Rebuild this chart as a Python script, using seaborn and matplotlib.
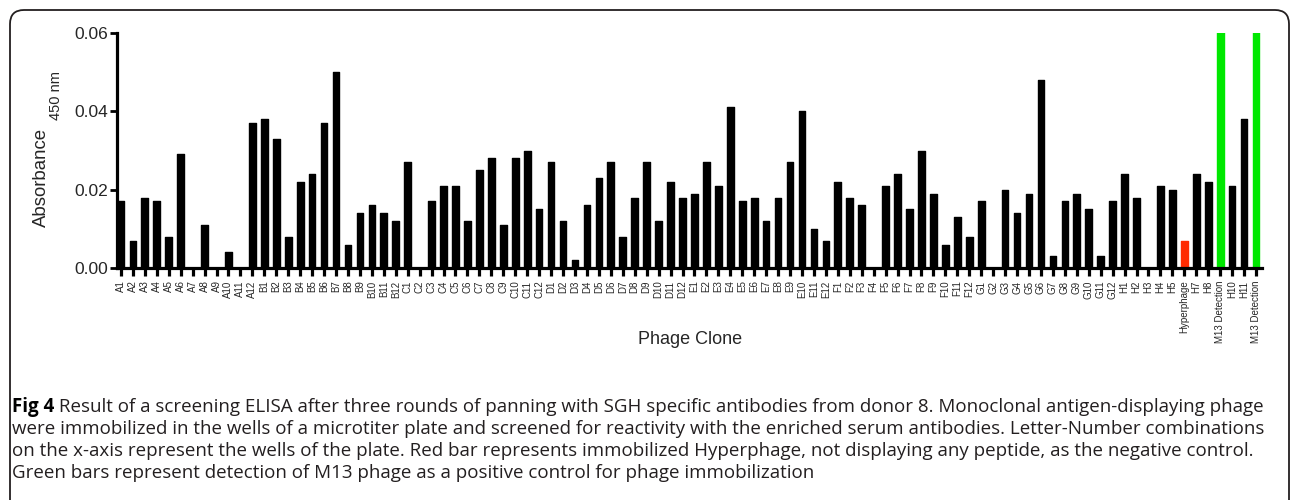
import matplotlib
matplotlib.use("Agg")
import matplotlib.pyplot as plt
import seaborn as sns
import pandas as pd
from matplotlib.patches import FancyBboxPatch
from matplotlib.transforms import IdentityTransform

# ---------------- data ----------------
row_A = [0.017, 0.007, 0.018, 0.017, 0.008, 0.029, 0.0, 0.011, 0.0, 0.004, 0.0, 0.037]
row_B = [0.038, 0.033, 0.008, 0.022, 0.024, 0.037, 0.050, 0.006, 0.014, 0.016, 0.014, 0.012]
row_C = [0.027, 0.0, 0.017, 0.021, 0.021, 0.012, 0.025, 0.028, 0.011, 0.028, 0.030, 0.015]
row_D = [0.027, 0.012, 0.002, 0.016, 0.023, 0.027, 0.008, 0.018, 0.027, 0.012, 0.022, 0.018]
row_E = [0.019, 0.027, 0.021, 0.041, 0.017, 0.018, 0.012, 0.018, 0.027, 0.040, 0.010, 0.007]
row_F = [0.022, 0.018, 0.016, 0.0, 0.021, 0.024, 0.015, 0.030, 0.019, 0.006, 0.013, 0.008]
row_G = [0.017, 0.0, 0.020, 0.014, 0.019, 0.048, 0.003, 0.017, 0.019, 0.015, 0.003, 0.017]
row_H = [0.024, 0.018, 0.0, 0.021, 0.020, 0.007, 0.024, 0.022, 0.065, 0.021, 0.038, 0.065]

row_letters = ["A", "B", "C", "D", "E", "F", "G", "H"]
special_labels = {"H6": "Hyperphage", "H9": "M13 Detection", "H12": "M13 Detection"}
special_kinds = {"H6": "negative", "H9": "positive", "H12": "positive"}

y_ticks = [0.00, 0.02, 0.04, 0.06]
y_title = "Absorbance"
y_title_sub = "450 nm"
x_title = "Phage Clone"
caption_bold = "Fig 4"
caption_lines = [
    " Result of a screening ELISA after three rounds of panning with SGH specific antibodies from donor 8. Monoclonal antigen-displaying phage",
    "were immobilized in the wells of a microtiter plate and screened for reactivity with the enriched serum antibodies. Letter-Number combinations",
    "on the x-axis represent the wells of the plate. Red bar represents immobilized Hyperphage, not displaying any peptide, as the negative control.",
    "Green bars represent detection of M13 phage as a positive control for phage immobilization",
]

# ---------------- build table ----------------
values = row_A + row_B + row_C + row_D + row_E + row_F + row_G + row_H
wells = [f"{r}{c}" for r in row_letters for c in range(1, 13)]
labels = [special_labels.get(w, w) for w in wells]
kinds = [special_kinds.get(w, "sample") for w in wells]
df = pd.DataFrame({"pos": list(range(len(values))), "label": labels,
                   "value": values, "kind": kinds})
palette = {"sample": "#000000", "negative": "#ff2a00", "positive": "#00e800"}

# ---------------- plot ----------------
sns.set_theme(style="ticks")
plt.rcParams["font.family"] = ["Liberation Sans", "DejaVu Sans"]

W, H = 1292, 500
fig = plt.figure(figsize=(W / 100, H / 100), dpi=100)
ax = fig.add_axes([117 / W, 232 / H, (1262 - 117) / W, 235 / H])

sns.barplot(data=df, x="pos", y="value", hue="kind", palette=palette,
            dodge=False, width=0.56, legend=False, saturation=1, ax=ax,
            errorbar=None)
for p in ax.patches:
    p.set_edgecolor(p.get_facecolor())
    p.set_linewidth(1.0)
    p.set_joinstyle("round")

ax.set_xlim(-0.33, 95.5)
ax.set_ylim(0, 0.06)
ax.set_yticks(y_ticks)
ax.set_yticklabels([f"{t:.2f}" for t in y_ticks], fontsize=12.5)
ax.set_xticks(df["pos"])
ax.set_xticklabels(df["label"], rotation=90, fontsize=7.0)

for s in ["top", "right"]:
    ax.spines[s].set_visible(False)
for s in ["left", "bottom"]:
    ax.spines[s].set_linewidth(2.3)
    ax.spines[s].set_color("black")
    ax.spines[s].set_capstyle("projecting")
ax.tick_params(axis="x", length=6, width=2.3, pad=3, color="black")
ax.tick_params(axis="y", length=5, width=2.0, pad=1.5, color="black")

ax.set_xlabel("")
ax.set_ylabel(y_title, fontsize=13.4)
ax.yaxis.label.set_rotation_mode("anchor")
ax.yaxis.label.set_verticalalignment("baseline")
ax.yaxis.label.set_horizontalalignment("center")
ax.yaxis.set_label_coords((46 - 117) / 1145, (500 - 177.5 - 232) / 235)
fig.text(60 / W, 1 - 95 / H, y_title_sub, rotation=90, rotation_mode="anchor",
         ha="center", va="baseline", fontsize=10.5)

fig.text(690 / W, 1 - 340 / H, x_title, ha="center", va="center", fontsize=13)

# ---------------- caption ----------------
cap_font = ["Open Sans", "DejaVu Sans"]
cap_color = "#231f20"
cap_size = 13.5
x0 = 12 / W
baselines = [412, 434, 456, 478]
renderer = fig.canvas.get_renderer()
t_bold = fig.text(x0, 1 - baselines[0] / H, caption_bold, ha="left", va="baseline",
                  fontsize=cap_size, fontweight="bold", family=cap_font, color="black")
bb = t_bold.get_window_extent(renderer=renderer)
fig.text(bb.x1 / W, 1 - baselines[0] / H, caption_lines[0], ha="left", va="baseline",
         fontsize=cap_size, family=cap_font, color=cap_color)
for line, b in zip(caption_lines[1:], baselines[1:]):
    fig.text(x0, 1 - b / H, line, ha="left", va="baseline",
             fontsize=cap_size, family=cap_font, color=cap_color)

# ---------------- frame ----------------
frame = FancyBboxPatch((10, -60), 1279, 550,
                       boxstyle="round,pad=0,rounding_size=14",
                       transform=IdentityTransform(), facecolor="none",
                       edgecolor="#231f20", linewidth=1.3)
fig.add_artist(frame)

fig.savefig("out.png", dpi=100)
